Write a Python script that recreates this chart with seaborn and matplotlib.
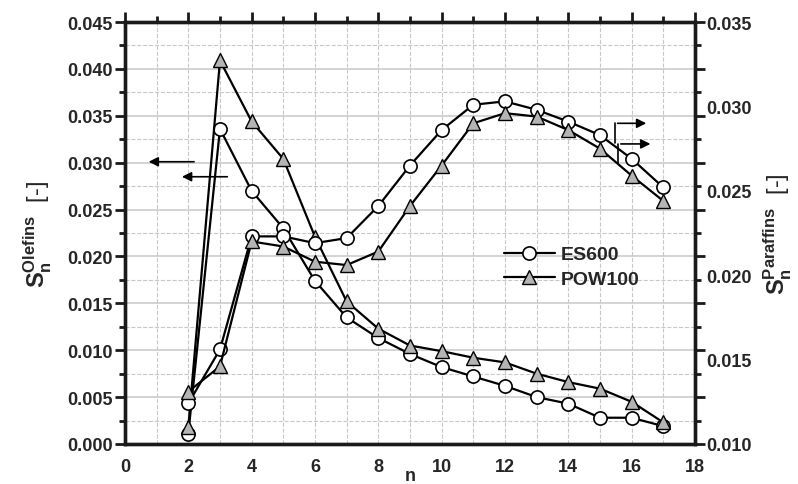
import matplotlib
matplotlib.use('Agg')
import matplotlib.pyplot as plt
from matplotlib.ticker import MultipleLocator, FormatStrFormatter
from matplotlib.lines import Line2D
import seaborn as sns

# Carbon number
n = list(range(2, 18))

# Olefin selectivity (left axis)
olefins_es600 = [0.0011, 0.0336, 0.0270, 0.0230, 0.0174, 0.0135, 0.0113, 0.0096,
                 0.0082, 0.0072, 0.0062, 0.0050, 0.0043, 0.0028, 0.0028, 0.0019]
olefins_pow100 = [0.0018, 0.0409, 0.0344, 0.0304, 0.0221, 0.0152, 0.0123, 0.0105,
                  0.0099, 0.0092, 0.0087, 0.0075, 0.0066, 0.0059, 0.0045, 0.0023]

# Paraffin selectivity (right axis)
paraffins_es600 = [0.0124, 0.0156, 0.0223, 0.0223, 0.0219, 0.0222, 0.0241, 0.0265,
                   0.0286, 0.0301, 0.0303, 0.0298, 0.0291, 0.0283, 0.0269, 0.0252]
paraffins_pow100 = [0.0131, 0.0146, 0.0220, 0.0217, 0.0208, 0.0206, 0.0214, 0.0241,
                    0.0265, 0.0290, 0.0296, 0.0294, 0.0286, 0.0275, 0.0259, 0.0244]

series_names = ['ES600', 'POW100']

sns.set_theme(style='white')
plt.rcParams['font.family'] = ['Liberation Sans', 'DejaVu Sans']
plt.rcParams['font.weight'] = 'bold'
plt.rcParams['mathtext.fontset'] = 'custom'
plt.rcParams['mathtext.rm'] = 'Liberation Sans:bold'
plt.rcParams['mathtext.it'] = 'Liberation Sans:bold'
plt.rcParams['mathtext.bf'] = 'Liberation Sans:bold'

fig = plt.figure(figsize=(7.98, 4.85), dpi=100)
ax = fig.add_axes([0.1566, 0.0825, 0.7143, 0.870])
ax2 = ax.twinx()

circle_style = dict(color='black', marker='o', markersize=9.5, markerfacecolor='white',
                    markeredgecolor='black', markeredgewidth=1.2, linewidth=1.6)
tri_style = dict(color='black', marker='^', markersize=10.5, markerfacecolor='#b4b4b4',
                 markeredgecolor='black', markeredgewidth=1.0, linewidth=1.6)

# Olefins on left axis
sns.lineplot(x=n, y=olefins_es600, ax=ax, legend=False, **circle_style)
sns.lineplot(x=n, y=olefins_pow100, ax=ax, legend=False, **tri_style)
# Paraffins on right axis
sns.lineplot(x=n, y=paraffins_es600, ax=ax2, legend=False, **circle_style)
sns.lineplot(x=n, y=paraffins_pow100, ax=ax2, legend=False, **tri_style)

# Axis limits and ticks
ax.set_xlim(0, 18)
ax.set_ylim(0, 0.045)
ax2.set_ylim(0.010, 0.035)
ax.xaxis.set_major_locator(MultipleLocator(2))
ax.xaxis.set_minor_locator(MultipleLocator(1))
ax.yaxis.set_major_locator(MultipleLocator(0.005))
ax.yaxis.set_minor_locator(MultipleLocator(0.0025))
ax.yaxis.set_major_formatter(FormatStrFormatter('%.3f'))
ax2.yaxis.set_major_locator(MultipleLocator(0.005))
ax2.yaxis.set_major_formatter(FormatStrFormatter('%.3f'))

ax.tick_params(axis='both', which='major', direction='out', length=7, width=2,
               labelsize=13, color='#1a1a1a', top=True, right=True, pad=2)
ax.tick_params(axis='both', which='minor', direction='out', length=4, width=2,
               color='#1a1a1a', top=True, right=True)
ax.tick_params(axis='x', which='major', pad=3)
ax2.tick_params(axis='y', which='major', length=0, labelsize=13, pad=8)
ax2.tick_params(axis='y', which='minor', length=0)

for a in (ax, ax2):
    for sp in a.spines.values():
        sp.set_linewidth(2.4)
        sp.set_color('#1a1a1a')

# Grid
ax.set_axisbelow(True)
ax.yaxis.grid(True, which='major', color='#c8c8c8', linestyle='-', linewidth=1.1)
ax.yaxis.grid(True, which='minor', color='#c8c8c8', linestyle='--', linewidth=0.8)
ax.xaxis.grid(True, which='both', color='#c8c8c8', linestyle='--', linewidth=0.8)

# Labels
ax.set_xlabel('n', fontsize=13, fontweight='bold', labelpad=-6)
ax.set_ylabel(r'$\mathrm{S_n^{Olefins}}$  [-]', fontsize=17, labelpad=9)
ax2.set_ylabel(r'$\mathrm{S_n^{Paraffins}}$  [-]', fontsize=17, rotation=90, labelpad=7)

# Direction arrows
arrow = dict(arrowstyle='-|>', color='black', lw=1.2, mutation_scale=14)
ax.annotate('', xy=(0.66, 0.0301), xytext=(2.27, 0.0301), arrowprops=arrow)
ax.annotate('', xy=(1.71, 0.0285), xytext=(3.32, 0.0285), arrowprops=arrow)
ax.annotate('', xy=(16.55, 0.0342), xytext=(15.47, 0.0342), arrowprops=arrow)
ax.plot([15.47, 15.47], [0.0342, 0.0321], color='black', lw=1.2)
ax.annotate('', xy=(16.68, 0.0320), xytext=(15.57, 0.0320), arrowprops=arrow)
ax.plot([15.57, 15.57], [0.0320, 0.0300], color='black', lw=1.2)

# Legend
handles = [Line2D([], [], **circle_style), Line2D([], [], **tri_style)]
leg = ax2.legend(handles, series_names, loc='center left', bbox_to_anchor=(0.665, 0.42),
                 frameon=False, fontsize=14, handlelength=2.6, handletextpad=0.3,
                 labelspacing=0.35, borderpad=0, borderaxespad=0)
for t in leg.get_texts():
    t.set_fontweight('bold')

fig.savefig('out.png', dpi=100)
